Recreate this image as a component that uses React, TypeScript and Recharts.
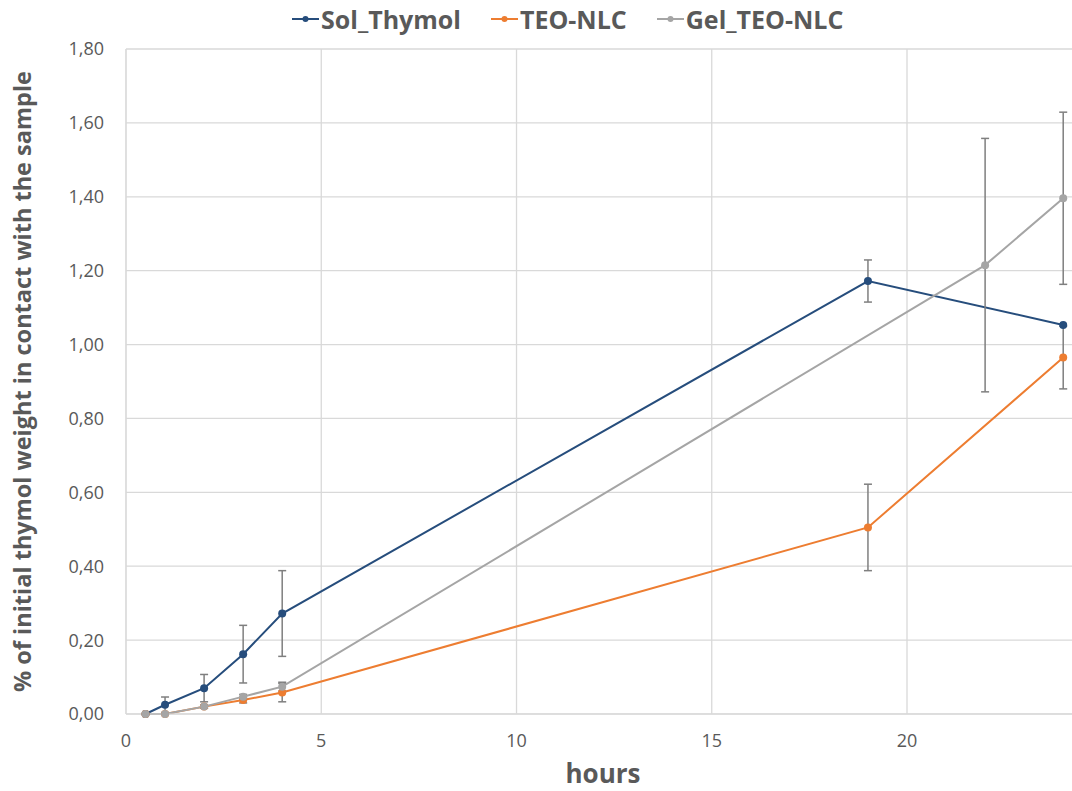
import React from "react";
import { CartesianGrid, ErrorBar, Line, LineChart, XAxis, YAxis } from "recharts";

const solThymol = [
  { x: 0.5, y: 0, err: 0 },
  { x: 1, y: 0.025, err: 0.021 },
  { x: 2, y: 0.07, err: 0.037 },
  { x: 3, y: 0.162, err: 0.078 },
  { x: 4, y: 0.272, err: 0.116 },
  { x: 19, y: 1.172, err: 0.057 },
  { x: 24, y: 1.053, err: 0 },
];

const teoNlc = [
  { x: 0.5, y: 0, err: 0 },
  { x: 1, y: 0, err: 0 },
  { x: 2, y: 0.02, err: 0.004 },
  { x: 3, y: 0.038, err: 0.008 },
  { x: 4, y: 0.058, err: 0.025 },
  { x: 19, y: 0.505, err: 0.117 },
  { x: 24, y: 0.965, err: 0.085 },
];

const gelTeoNlc = [
  { x: 0.5, y: 0, err: 0 },
  { x: 1, y: 0, err: 0 },
  { x: 2, y: 0.02, err: 0.004 },
  { x: 3, y: 0.047, err: 0.006 },
  { x: 4, y: 0.074, err: 0.012 },
  { x: 22, y: 1.215, err: 0.343 },
  { x: 24, y: 1.396, err: 0.233 },
];

const xTicks = [0, 5, 10, 15, 20];
const yTicks = [0, 0.2, 0.4, 0.6, 0.8, 1.0, 1.2, 1.4, 1.6, 1.8];

const series = [
  { name: "Sol_Thymol", data: solThymol, color: "#264d7c" },
  { name: "TEO-NLC", data: teoNlc, color: "#ed7d31" },
  { name: "Gel_TEO-NLC", data: gelTeoNlc, color: "#a5a5a5" },
];

const FONT = "'Open Sans', 'Liberation Sans', sans-serif";
const TEXT = "#595959";

function YLabel(props: any) {
  const vb = props.viewBox || {};
  const cx = 22;
  const cy = vb.y + vb.height / 2;
  return (
    <text
      x={cx}
      y={cy}
      transform={`rotate(-90, ${cx}, ${cy})`}
      textAnchor="middle"
      dominantBaseline="central"
      fill={TEXT}
      fontFamily={FONT}
      fontWeight="bold"
      fontSize={23.5}
    >
      % of initial thymol weight in contact with the sample
    </text>
  );
}

function LegendRow() {
  return (
    <div
      style={{
        position: "absolute",
        top: 2,
        left: 292,
        display: "flex",
        gap: 30,
        fontFamily: FONT,
        fontWeight: "bold",
        fontSize: 25,
        color: TEXT,
        whiteSpace: "nowrap",
      }}
    >
      {series.map((s) => (
        <div key={s.name} style={{ display: "flex", alignItems: "center", gap: 2 }}>
          <svg width={27} height={10}>
            <line x1={0} y1={5} x2={27} y2={5} stroke={s.color} strokeWidth={2} />
            <circle cx={13.5} cy={5} r={3} fill={s.color} />
          </svg>
          <span>{s.name}</span>
        </div>
      ))}
    </div>
  );
}

export default function App() {
  return (
    <div style={{ position: "absolute", left: 0, top: 0, width: 1072, height: 791, background: "#fff", overflow: "hidden" }}>
      <LegendRow />
      <LineChart width={1080} height={791} margin={{ top: 49, right: 0, left: 0, bottom: 0 }}>
        <CartesianGrid stroke="#d9d9d9" strokeWidth={1.3} verticalValues={xTicks} horizontalValues={yTicks} />
        <XAxis
          type="number"
          dataKey="x"
          domain={[0, 24.43]}
          ticks={xTicks}
          allowDuplicatedCategory={false}
          height={77}
          tickLine={false}
          tickSize={0}
          tickMargin={20}
          stroke="#d9d9d9"
          tick={{ fill: TEXT, fontSize: 18, fontFamily: FONT }}
          label={{
            value: "hours",
            position: "insideBottom",
            offset: 8,
            fill: TEXT,
            fontSize: 26,
            fontWeight: "bold",
            fontFamily: FONT,
          }}
        />
        <YAxis
          type="number"
          domain={[0, 1.8]}
          ticks={yTicks}
          width={126}
          tickLine={false}
          tickSize={0}
          tickMargin={22}
          stroke="#d9d9d9"
          tickFormatter={(v: number) => v.toFixed(2).replace(".", ",")}
          tick={{ fill: TEXT, fontSize: 18, fontFamily: FONT }}
          label={<YLabel />}
        />
        {series.map((s) => (
          <Line
            key={s.name}
            data={s.data}
            dataKey="y"
            name={s.name}
            stroke={s.color}
            strokeWidth={2}
            dot={{ r: 4, fill: s.color, stroke: "none" }}
            activeDot={false}
            isAnimationActive={false}
          >
            <ErrorBar dataKey="err" direction="y" width={4} stroke="#7f7f7f" strokeWidth={1.5} />
          </Line>
        ))}
      </LineChart>
    </div>
  );
}
